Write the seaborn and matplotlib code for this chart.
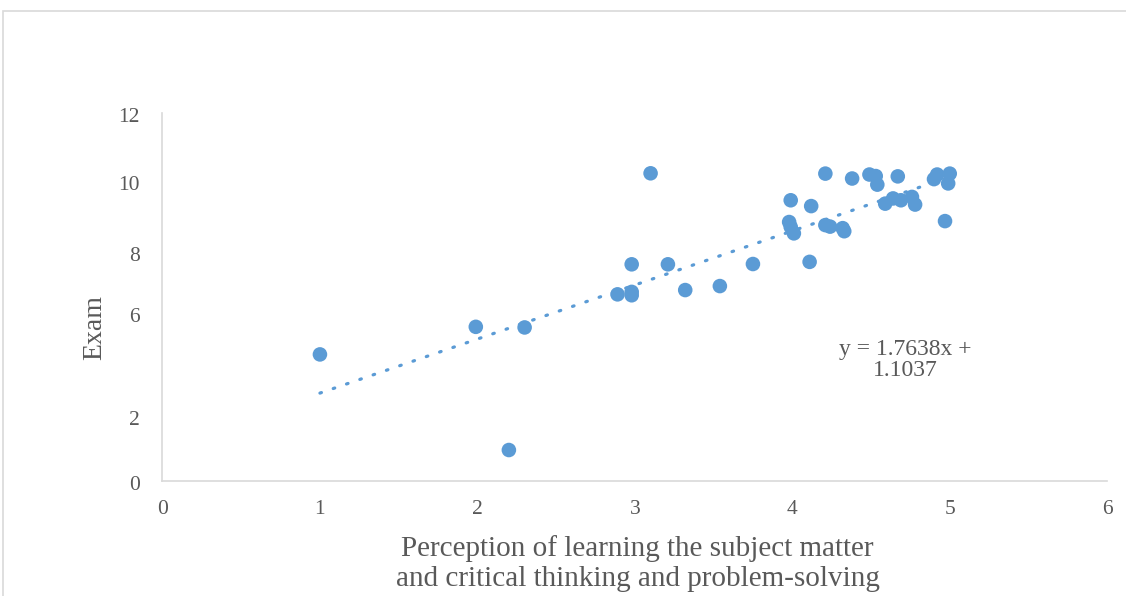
# %% Scatter of exam score vs perception of learning, with linear trend line
import numpy as np
import matplotlib
matplotlib.use('Agg')
import matplotlib.pyplot as plt
import matplotlib.transforms as mtransforms
from matplotlib.patches import Rectangle
import seaborn as sns

# %%
# Values
perception = [1.00, 1.99, 2.30, 2.20, 2.89, 2.98, 2.98, 2.98, 3.10, 3.21,
              3.32, 3.54, 3.75, 3.99, 3.98, 3.99, 4.01, 4.11, 4.12, 4.21,
              4.21, 4.24, 4.32, 4.33, 4.38, 4.49, 4.53, 4.54, 4.59, 4.64,
              4.67, 4.69, 4.76, 4.78, 4.92, 5.00, 4.90, 4.99, 4.97]
exam = [4.13, 5.03, 5.01, 1.01, 6.09, 6.17, 6.06, 7.07, 10.04, 7.07,
        6.23, 6.36, 7.08, 9.16, 8.45, 8.29, 8.08, 7.15, 8.97, 10.03,
        8.35, 8.30, 8.25, 8.15, 9.87, 10.00, 9.95, 9.67, 9.05, 9.22,
        9.94, 9.16, 9.27, 9.02, 10.00, 10.03, 9.85, 9.71, 8.48]

# Trend line from the equation printed on the chart
slope = 1.7638
intercept = 1.1037

x_ticks = [0, 1, 2, 3, 4, 5, 6]
y_ticks = [0, 2, 4, 6, 8, 10, 12]
y_tick_labels = ['0', '2', '', '6', '8', '10', '12']

x_label = 'Perception of learning the subject matter\nand critical thinking and problem-solving'
y_label = 'Exam'

# %%
# Style
blue = '#5B9BD5'
text_grey = '#595959'
line_grey = '#D9D9D9'
# label shifts in pixels (downwards), as drawn in the original
y_label_shift = [2, -2, 0, 18, 18, 8, 2]

sns.set_theme(style='white')
plt.rcParams['font.family'] = ['Liberation Serif', 'DejaVu Serif']

fig = plt.figure(figsize=(11.26, 5.96), dpi=100)
ax = fig.add_axes([0.1443, 0.193, 0.839, 0.617])

sns.scatterplot(x=perception, y=exam, s=110, color=blue,
                edgecolor='none', linewidth=0, ax=ax, zorder=3)

x_fit = np.array([min(perception), max(perception)])
ax.plot(x_fit, slope * x_fit + intercept, color=blue, lw=2.3,
        linestyle=(0, (0.5, 3.9)), dash_capstyle='round', zorder=2)

ax.text(4.72, 3.95, f'y = {slope}x +\n{intercept}', ha='center', va='center',
        fontsize=17, color=text_grey, linespacing=1.0)

ax.set_xlim(0, 6)
ax.set_ylim(0, 12)
ax.set_xticks(x_ticks)
ax.set_yticks(y_ticks)
ax.set_yticklabels(y_tick_labels)

for side in ['top', 'right']:
    ax.spines[side].set_visible(False)
for side in ['left', 'bottom']:
    ax.spines[side].set_color(line_grey)
    ax.spines[side].set_linewidth(1.2)

ax.tick_params(axis='both', colors=text_grey, labelsize=15.5, direction='out',
               length=4.5, width=1, color=line_grey)
ax.tick_params(axis='x', pad=9)
ax.tick_params(axis='y', pad=12)

ax.set_xlabel(x_label, fontsize=21, color=text_grey, linespacing=1.2,
              va='top')
ax.xaxis.set_label_coords(0.503, -0.148)
ax.set_ylabel(y_label, fontsize=20, color=text_grey)
ax.yaxis.set_label_coords(-0.058, 0.418)

# Shift y tick labels to where the original draws them
for lbl, dy in zip(ax.get_yticklabels(), y_label_shift):
    lbl.set_transform(lbl.get_transform()
                      + mtransforms.ScaledTranslation(0, -dy / 100, fig.dpi_scale_trans))

# Chart area frame, cut off at right and bottom
fig.patches.append(Rectangle((3 / 1126, -0.1), 1.2, 1 - 11 / 596 + 0.1,
                             transform=fig.transFigure, fill=False,
                             edgecolor=line_grey, lw=1.2))

fig.savefig('out.png', dpi=100)
